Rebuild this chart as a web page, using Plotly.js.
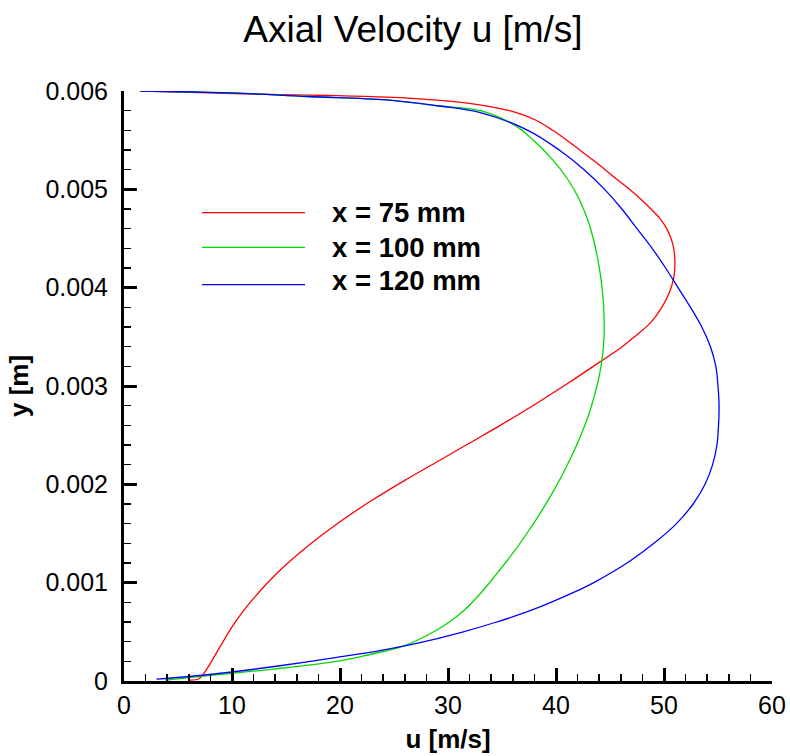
<!DOCTYPE html>
<html>
<head>
<meta charset="utf-8">
<script src="https://cdn.plot.ly/plotly-3.0.1.min.js"></script>
<style>html,body{margin:0;padding:0;background:#fff;}#chart{width:790px;height:756px;}</style>
</head>
<body>
<div id="chart"></div>
<script>
// Series names
const seriesNames = ["x = 75 mm", "x = 100 mm", "x = 120 mm"];
const seriesColors = ["#ff0000", "#00d800", "#0000ff"];

// x = 75 mm  (u [m/s], y [m]), bottom to top
const u75 = [6.0, 6.9, 7.35, 8.9, 10.0, 11.0, 12.0, 14.2, 17.0, 20.0, 23.0, 26.0, 29.0, 32.0, 35.0, 38.0, 41.0, 44.0, 46.0, 47.5, 48.8, 49.8, 50.5, 50.9, 51.0, 51.0, 50.9, 50.65, 50.25, 49.65, 48.8, 47.85, 46.8, 45.65, 44.55, 43.4, 42.2, 41.0, 39.7, 38.2, 35.7, 32.3, 28.6, 24.3, 19.0, 14.4, 8.0, 1.5];
const y75 = [0.00001, 0.00002, 0.00007, 0.00035, 0.00055, 0.000705, 0.00084, 0.0011, 0.00137, 0.00162, 0.00184, 0.00204, 0.00223, 0.00242, 0.00261, 0.00281, 0.00302, 0.00324, 0.00339, 0.00352, 0.00365, 0.0038, 0.00395, 0.0041, 0.0042, 0.0043, 0.0044, 0.0045, 0.0046, 0.0047, 0.0048, 0.0049, 0.005, 0.0051, 0.0052, 0.0053, 0.0054, 0.0055, 0.0056, 0.0057, 0.0058, 0.00587, 0.00591, 0.005937, 0.005954, 0.005964, 0.00598, 0.006];

// x = 100 mm
const u100 = [4.0, 5.8, 9.8, 14.1, 19.7, 22.0, 24.0, 26.0, 28.0, 30.0, 31.5, 33.0, 34.5, 36.0, 37.3, 38.5, 39.6, 40.6, 41.5, 42.3, 43.0, 43.55, 44.0, 44.3, 44.45, 44.45, 44.35, 44.15, 43.85, 43.45, 42.9, 42.15, 41.1, 39.7, 37.9, 36.2, 33.0, 29.0, 24.3, 17.0, 10.0, 1.5];
const y100 = [0.00001, 0.000032, 0.000076, 0.000124, 0.0002, 0.00025, 0.0003, 0.00036, 0.00046, 0.00059, 0.00072, 0.00089, 0.00109, 0.0013, 0.0015, 0.0017, 0.0019, 0.0021, 0.0023, 0.0025, 0.0027, 0.0029, 0.0031, 0.0033, 0.0035, 0.0037, 0.0039, 0.0041, 0.0043, 0.0045, 0.0047, 0.0049, 0.0051, 0.0053, 0.0055, 0.00565, 0.0058, 0.00585, 0.00591, 0.005944, 0.00598, 0.006];

// x = 120 mm
const u120 = [3.0, 5.8, 9.8, 14.1, 19.7, 23.7, 27.2, 31.25, 34.5, 37.6, 42.2, 43.5, 46.85, 49.3, 51.15, 52.7, 53.8, 54.5, 54.9, 55.05, 55.1, 55.0, 54.8, 54.3, 53.5, 52.45, 51.3, 50.15, 48.9, 47.5, 46.1, 44.5, 42.6, 40.3, 37.4, 33.0, 29.0, 24.3, 17.0, 10.0, 1.5];
const y120 = [0.00002, 0.000043, 0.000089, 0.00015, 0.00024, 0.00031, 0.000385, 0.000495, 0.0006, 0.000715, 0.00093, 0.001, 0.00122, 0.00142, 0.0016, 0.0018, 0.002, 0.0022, 0.0024, 0.0026, 0.0028, 0.003, 0.0032, 0.0034, 0.0036, 0.0038, 0.004, 0.0042, 0.0044, 0.0046, 0.0048, 0.005, 0.0052, 0.0054, 0.0056, 0.00578, 0.00585, 0.00591, 0.005944, 0.00598, 0.006];

// Tick labels
const xTickVals = [0, 10, 20, 30, 40, 50, 60];
const xTickText = ["0", "10", "20", "30", "40", "50", "60"];
const yTickVals = [0, 0.001, 0.002, 0.003, 0.004, 0.005, 0.006];
const yTickText = ["0", "0.001", "0.002", "0.003", "0.004", "0.005", "0.006"];

const titleText = "Axial Velocity u [m/s]";
const xTitle = "u [m/s]";
const yTitle = "y [m]";

const FONT = "Liberation Sans, Arial, sans-serif";
const xs = [u75, u100, u120];
const ys = [y75, y100, y120];

const traces = xs.map((x, i) => ({
  type: "scatter", mode: "lines", x: x, y: ys[i], name: seriesNames[i],
  line: {color: seriesColors[i], width: 1.3, shape: "spline", smoothing: 1},
  showlegend: false, hoverinfo: "skip"
}));

// manual legend (lines + labels)
const legRowsLine = [0.7937, 0.7351, 0.6717];
const legRowsText = [0.7937, 0.7351, 0.6785];
const shapes = seriesNames.map((n, i) => ({
  type: "line", xref: "paper", yref: "paper",
  x0: 0.1204, x1: 0.2793, y0: legRowsLine[i], y1: legRowsLine[i],
  line: {color: seriesColors[i], width: 1.3}
}));
const annotations = seriesNames.map((n, i) => ({
  xref: "paper", yref: "paper", x: 0.318, y: legRowsText[i],
  xanchor: "left", yanchor: "middle", showarrow: false, text: n,
  font: {family: FONT, size: 27.5, color: "#000", weight: "bold"}
}));

const axisCommon = {
  showgrid: false, zeroline: false, showline: true, linecolor: "#000", linewidth: 3,
  ticks: "inside", ticklen: 13, tickwidth: 3, tickcolor: "#000",
  tickfont: {family: FONT, size: 25, color: "#000"},
  mirror: false, fixedrange: true
};

const layout = {
  width: 790, height: 756,
  margin: {l: 124, r: 18, t: 91, b: 75, autoexpand: false},
  paper_bgcolor: "#fff", plot_bgcolor: "#fff",
  font: {family: FONT, color: "#000"},
  title: {text: titleText, font: {family: FONT, size: 37, color: "#000"},
          xref: "container", yref: "container", x: 0.5228, y: 0.962, xanchor: "center", yanchor: "middle"},
  xaxis: Object.assign({}, axisCommon, {
    range: [0, 60], tickvals: xTickVals, ticktext: xTickText,
    minor: {dtick: 2, ticks: "inside", ticklen: 7, tickwidth: 1.5, tickcolor: "#000", showgrid: false},
    ticklabelstandoff: 0,
    title: {text: xTitle, font: {family: FONT, size: 26, color: "#000", weight: "bold"}, standoff: 12}
  }),
  yaxis: Object.assign({}, axisCommon, {
    range: [0, 0.006], tickvals: yTickVals, ticktext: yTickText,
    minor: {dtick: 0.0002, ticks: "inside", ticklen: 7, tickwidth: 1.5, tickcolor: "#000", showgrid: false},
    ticklabelstandoff: 8,
    title: {text: yTitle, font: {family: FONT, size: 26, color: "#000", weight: "bold"}, standoff: 10}
  }),
  shapes: shapes,
  annotations: annotations,
  showlegend: false
};

Plotly.newPlot("chart", traces, layout, {displayModeBar: false, staticPlot: true});
</script>
</body>
</html>
